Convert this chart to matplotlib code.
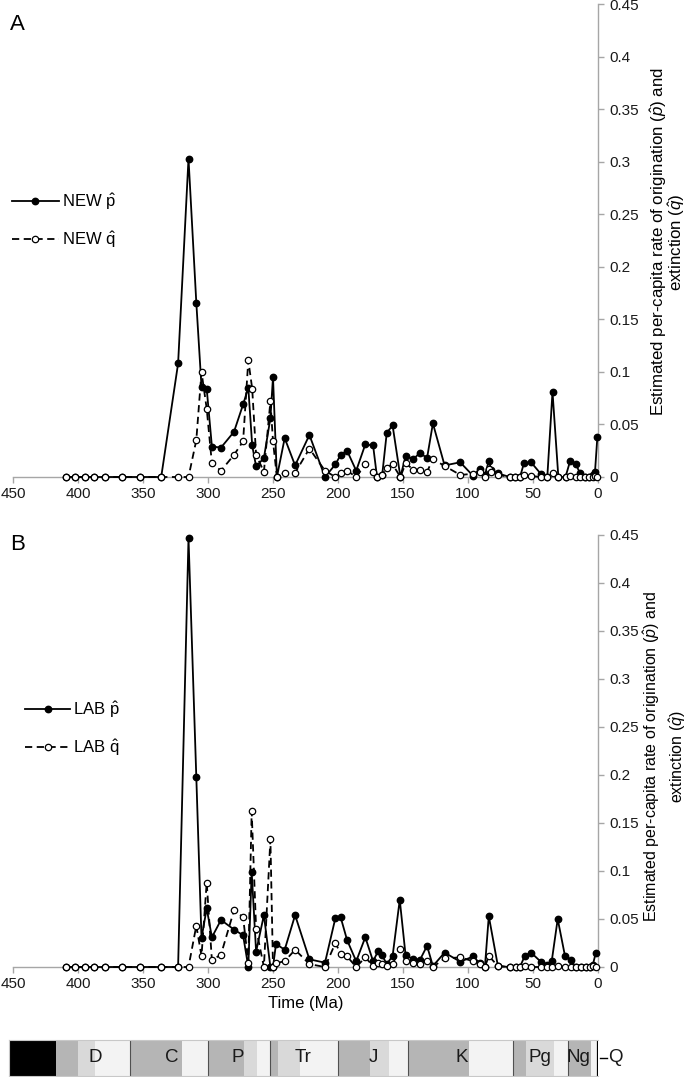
import numpy as np
import matplotlib
matplotlib.use("Agg")
import matplotlib.pyplot as plt
import matplotlib.ticker as mticker

plt.rcParams["font.family"] = ["Liberation Sans", "DejaVu Sans"]
plt.rcParams["mathtext.fontset"] = "custom"
plt.rcParams["mathtext.rm"] = "Liberation Sans"
plt.rcParams["mathtext.it"] = "Liberation Sans:italic"

# ── Panel A: NEW ──────────────────────────────────────────────
t_new = [409, 402, 395, 388, 379, 366, 352, 336, 323, 315, 309, 305, 301, 297,
         290, 280, 273, 269, 266, 263, 257, 252, 250, 247, 241, 233, 222, 210,
         202, 198, 193, 186, 179, 173, 170, 166, 162.5, 158, 152, 148, 142, 137,
         131.5, 127, 118, 106, 96, 91, 87, 84, 82, 77, 68, 64, 60, 57, 51.5, 44,
         39, 35, 30.5, 25, 21.5, 17, 14, 10, 7, 4, 2.3, 0.5]
p_new = [0, 0, 0, 0, 0, 0, 0, 0, 0.108, 0.303, 0.166, 0.086, 0.084, 0.029,
         0.028, 0.043, 0.069, 0.085, 0.030, 0.010, 0.018, 0.056, 0.095, 0, 0.037, 0.011, 0.040, 0,
         0.012, 0.021, 0.025, 0.006, 0.031, 0.030, 0, 0.002, 0.042, 0.049, 0, 0.020, 0.017, 0.023,
         0.018, 0.051, 0.011, 0.014, 0.001, 0.008, 0.002, 0.015, 0.007, 0.0035, 0, 0, 0, 0.013, 0.014, 0.003,
         0, 0.081, 0, 0, 0.015, 0.012, 0.004, 0, 0, 0.002, 0.005, 0.038]
q_new = [0, 0, 0, 0, 0, 0, 0, 0, 0, 0, 0.035, 0.100, 0.065, 0.013,
         0.006, 0.021, 0.034, 0.111, 0.084, 0.021, 0.005, 0.072, 0.034, 0, 0.004, 0.004, 0.027, 0.006,
         0, 0.0035, 0.006, 0, 0.012, 0.005, 0, 0.002, 0.009, 0.012, 0, 0.013, 0.007, 0.007,
         0.005, 0.017, 0.0105, 0.002, 0.003, 0.005, 0, 0.008, 0.005, 0.002, 0, 0, 0, 0.002, 0.001, 0,
         0, 0.004, 0, 0, 0.001, 0, 0, 0, 0, 0, 0.001, 0]

# ── Panel B: LAB ──────────────────────────────────────────────
t_lab = [409, 402, 395, 388, 379, 366, 352, 336, 323, 315, 309, 305, 301, 297,
         290, 280, 273, 269, 266.4, 263, 257, 252, 250, 247.7, 241, 233, 222, 210,
         202, 198, 193, 186, 179, 173, 169, 166, 162.5, 158, 152.5, 148, 142, 137,
         131.5, 127, 118, 106, 96, 91, 87, 84, 77, 68, 63, 60, 56.4, 51.5, 44, 39,
         35.6, 31, 25.4, 21, 17, 13, 9, 6, 4, 1.8]
p_lab = [0, 0, 0, 0, 0, 0, 0, 0, 0, 0.447, 0.198, 0.030, 0.061, 0.031,
         0.049, 0.039, 0.033, 0, 0.099, 0.016, 0.054, 0, 0, 0.024, 0.018, 0.054, 0.008, 0.0045,
         0.051, 0.052, 0.028, 0.006, 0.031, 0.006, 0.017, 0.012, 0.003, 0.0115, 0.070, 0.012, 0.0083, 0.0073,
         0.022, 0.001, 0.015, 0.0055, 0.011, 0.004, 0, 0.053, 0.001, 0, 0, 0, 0.0115, 0.015, 0.0055, 0.002,
         0.006, 0.050, 0.0115, 0.0073, 0, 0, 0, 0, 0.002, 0.0143]
q_lab = [0, 0, 0, 0, 0, 0, 0, 0, 0, 0, 0.043, 0.0115, 0.088, 0.007,
         0.013, 0.059, 0.052, 0.004, 0.162, 0.040, 0, 0.133, 0, 0.004, 0.006, 0.018, 0.003, 0,
         0.025, 0.014, 0.011, 0, 0.010, 0.001, 0.0045, 0.003, 0.001, 0.003, 0.019, 0.006, 0.004, 0.0035,
         0.006, 0, 0.009, 0.010, 0.006, 0.003, 0, 0.0115, 0.001, 0, 0, 0, 0.001, 0, 0, 0,
         0, 0.001, 0, 0, 0, 0, 0, 0, 0.001, 0]

# ── Geological timescale ──────────────────────────────────────
ts_start = [453, 417, 400, 387, 360, 320, 300, 272, 262, 252, 246, 229, 200, 175, 161,
            146, 99, 65, 55, 34, 23, 5]
ts_end = [417, 400, 387, 360, 320, 300, 272, 262, 252, 246, 229, 200, 175, 161, 146,
          99, 65, 55, 34, 23, 5, 0]
ts_shade = ["k", "dark", "light", "pale", "dark", "pale", "dark", "light", "pale", "dark",
            "light", "pale", "dark", "light", "pale", "dark", "pale", "dark", "light", "pale",
            "dark", "pale"]
period_edges = [360, 300, 252, 200, 146, 65, 23]
period_names = ["D", "C", "P", "Tr", "J", "K", "Pg", "Ng"]
period_label_x = [387, 328, 277, 227, 173, 105, 45, 15]

SHADES = {"k": "#000000", "dark": "#b5b5b5", "light": "#d9d9d9", "pale": "#f3f3f3"}
AXIS_GREY = "#a6a6a6"

W, H = 690, 1077
fig = plt.figure(figsize=(W / 100, H / 100), dpi=100)


def fx(px):
    return px / W


def fy(py):
    return 1 - py / H


def style_axes(ax):
    ax.set_xlim(450, 0)
    ax.set_ylim(0, 0.45)
    ax.yaxis.tick_right()
    ax.spines["top"].set_visible(False)
    ax.spines["left"].set_visible(False)
    for s in ("bottom", "right"):
        ax.spines[s].set_color(AXIS_GREY)
        ax.spines[s].set_linewidth(1.0)
    ax.set_xticks(np.arange(450, -1, -50))
    ax.set_yticks(np.arange(0, 0.451, 0.05))
    ax.yaxis.set_major_formatter(mticker.FuncFormatter(lambda v, _: f"{round(v, 2):g}"))
    ax.tick_params(axis="both", direction="out", length=4, width=1.0, color=AXIS_GREY,
                   labelsize=11, labelcolor="#1a1a1a")
    ax.tick_params(axis="y", pad=4)


def plot_rates(ax, t, p, q, name):
    ax.plot(t, p, color="black", lw=1.3, marker="o", ms=4.6, mfc="black", mec="black",
            label=f"{name} $\\hat{{\\mathrm{{p}}}}$", clip_on=False, zorder=3)
    ax.plot(t, q, color="black", lw=1.3, ls=(0, (4, 2.5)), marker="o", ms=4.6, mfc="white",
            mec="black", mew=0.9, label=f"{name} $\\hat{{\\mathrm{{q}}}}$", clip_on=False, zorder=4)


ylabel = "Estimated per-capita rate of origination ($\\hat{p}$) and\nextinction ($\\hat{q}$)"

# Panel A
axA = fig.add_axes([fx(13), fy(477), fx(598) - fx(13), fy(4) - fy(477)])
plot_rates(axA, t_new, p_new, q_new, "NEW")
style_axes(axA)
axA.legend(loc="upper left", bbox_to_anchor=(fx(12), fy(191)), bbox_transform=fig.transFigure,
           frameon=False, fontsize=12, handlelength=2.8, handletextpad=0.2,
           labelspacing=1.05, borderpad=0, borderaxespad=0)
fig.text(fx(10), fy(25), "A", fontsize=16, va="center", ha="left")
fig.text(fx(668), fy(242), ylabel, rotation=90, ha="center", va="center",
         multialignment="center", fontsize=12.2, linespacing=0.85)

# Panel B
axB = fig.add_axes([fx(13), fy(967), fx(598) - fx(13), fy(535) - fy(967)])
plot_rates(axB, t_lab, p_lab, q_lab, "LAB")
style_axes(axB)
axB.set_xlabel("Time (Ma)", fontsize=12, labelpad=3)
axB.legend(loc="upper left", bbox_to_anchor=(fx(25), fy(699)), bbox_transform=fig.transFigure,
           frameon=False, fontsize=12, handlelength=2.7, handletextpad=0.2,
           labelspacing=1.05, borderpad=0, borderaxespad=0)
fig.text(fx(10), fy(545), "B", fontsize=16, va="center", ha="left")
fig.text(fx(665), fy(757), ylabel, rotation=90, ha="center", va="center",
         multialignment="center", fontsize=11.5, linespacing=1.35)

# Timescale bar
axT = fig.add_axes([fx(9), fy(1076), fx(598) - fx(9), fy(1040) - fy(1076)])
axT.set_xlim(453, 0)
axT.set_ylim(0, 1)
for a, b, s in zip(ts_start, ts_end, ts_shade):
    axT.axvspan(b, a, color=SHADES[s], lw=0)
for e in period_edges:
    axT.axvline(e, color="#505050", lw=0.8)
axT.axvline(0, color="black", lw=1.6)
for name, xpos in zip(period_names, period_label_x):
    axT.text(xpos, 0.5, name, ha="center", va="center", fontsize=13.5, color="#1a1a1a")
axT.plot([-1.5, -7], [0.5, 0.5], color="black", lw=1.0, clip_on=False)
axT.text(-7.5, 0.5, "Q", ha="left", va="center", fontsize=13.5, color="#1a1a1a", clip_on=False)
axT.set_xticks([])
axT.set_yticks([])
for s in axT.spines.values():
    s.set_color("#c8c8c8")
    s.set_linewidth(0.8)
axT.spines["right"].set_visible(False)

fig.savefig("out.png", dpi=100)
